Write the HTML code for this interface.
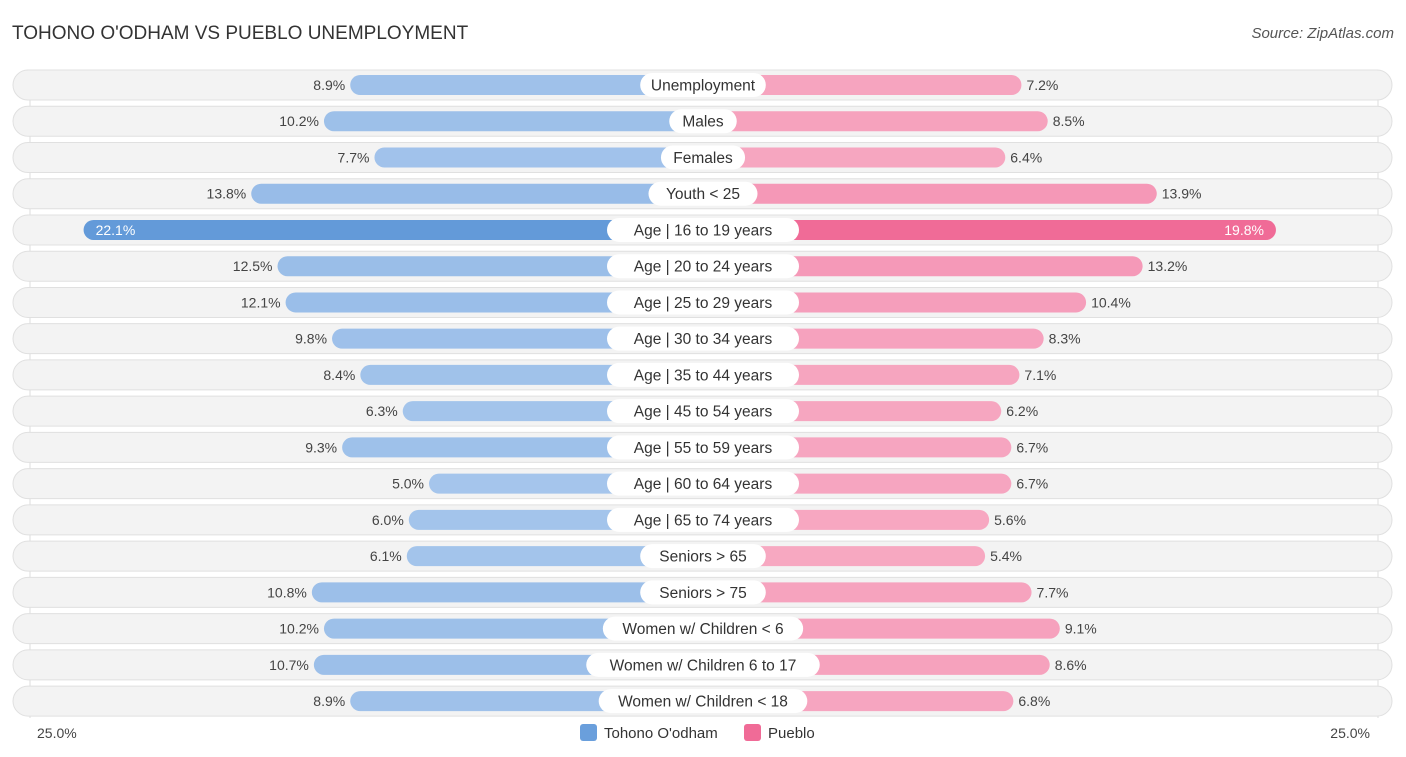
<!DOCTYPE html>
<html><head><meta charset="utf-8"><style>
body{margin:0;background:#fff;font-family:"Liberation Sans",sans-serif;}
#c{position:relative;width:1406px;height:757px;overflow:hidden;}
</style></head><body>
<div id="c">
<svg id="s" width="1406" height="757" xmlns="http://www.w3.org/2000/svg">
<text x="12" y="39" font-size="19" fill="#333">TOHONO O'ODHAM VS PUEBLO UNEMPLOYMENT</text>
<text x="1394" y="38" font-size="15" fill="#555" font-style="italic" text-anchor="end">Source: ZipAtlas.com</text>
<line x1="30" y1="70" x2="30" y2="718" stroke="#ddd"/>
<line x1="1378" y1="70" x2="1378" y2="718" stroke="#ddd"/>
<g id="rows"></g>
<text x="37" y="738" font-size="14" fill="#444">25.0%</text>
<text x="1370" y="738" font-size="14" fill="#444" text-anchor="end">25.0%</text>
<rect x="580" y="724" width="17" height="17" rx="3" fill="#6a9fdc"/>
<text x="604" y="738" font-size="15" fill="#333">Tohono O'odham</text>
<rect x="744" y="724" width="17" height="17" rx="3" fill="#f06b97"/>
<text x="768" y="738" font-size="15" fill="#333">Pueblo</text>
</svg></div>
<script>
const categories=["Unemployment","Males","Females","Youth < 25","Age | 16 to 19 years","Age | 20 to 24 years","Age | 25 to 29 years","Age | 30 to 34 years","Age | 35 to 44 years","Age | 45 to 54 years","Age | 55 to 59 years","Age | 60 to 64 years","Age | 65 to 74 years","Seniors > 65","Seniors > 75","Women w/ Children < 6","Women w/ Children 6 to 17","Women w/ Children < 18"];
const tohono=[8.9,10.2,7.7,13.8,22.1,12.5,12.1,9.8,8.4,6.3,9.3,5.0,6.0,6.1,10.8,10.2,10.7,8.9];
const pueblo=[7.2,8.5,6.4,13.9,19.8,13.2,10.4,8.3,7.1,6.2,6.7,6.7,5.6,5.4,7.7,9.1,8.6,6.8];
const NS="http://www.w3.org/2000/svg";
const g=document.getElementById('rows');
const CX=703,OFF=173,K=20.2;
function xl(v){return CX-OFF-v*K;}
function xr(v){return CX+OFF+v*K;}
function mk(t,a){const e=document.createElementNS(NS,t);for(const k in a)e.setAttribute(k,a[k]);return e;}
function lerp(a,b,t){return a.map((x,i)=>Math.round(x+(b[i]-x)*t));}
categories.forEach((c,i)=>{
  const y=85+i*36.24;
  const bg=mk('rect',{x:13,y:y-15,width:1379,height:30,rx:15,fill:'#f3f3f3',stroke:'#e0e0e0'});
  
  
  g.appendChild(bg);
  const tv=tohono[i],pv=pueblo[i];
  const tt=Math.min(1,tv/22),pt=Math.min(1,pv/20);
  const bc=tv>=20?'rgb(99,154,217)':'rgb('+lerp([172,202,238],[140,180,228],tt).join(',')+')';
  const pc=pv>=19?'rgb(240,107,151)':'rgb('+lerp([248,178,200],[243,140,175],pt).join(',')+')';
  const lb=mk('rect',{x:xl(tv),y:y-10,width:CX-xl(tv),height:20,rx:10,fill:bc});
  
  
  g.appendChild(lb);
  const rb=mk('rect',{x:CX,y:y-10,width:xr(pv)-CX,height:20,rx:10,fill:pc});
  
  
  g.appendChild(rb);
  const lt=mk('text',{y:y+5,'font-size':14});
  if(tv>=20){lt.setAttribute('x',xl(tv)+12);lt.setAttribute('fill','#fff');}
  else{lt.setAttribute('x',xl(tv)-5);lt.setAttribute('text-anchor','end');lt.setAttribute('fill','#444');}
  lt.textContent=tv.toFixed(1)+'%';
  
  
  g.appendChild(lt);
  const rt=mk('text',{y:y+5,'font-size':14});
  if(pv>=19){rt.setAttribute('x',xr(pv)-12);rt.setAttribute('text-anchor','end');rt.setAttribute('fill','#fff');}
  else{rt.setAttribute('x',xr(pv)+5);rt.setAttribute('fill','#444');}
  rt.textContent=pv.toFixed(1)+'%';
  
  
  g.appendChild(rt);
  const w=c.length*8.3+26;
  const pill=mk('rect',{x:CX-w/2,y:y-12,width:w,height:24,rx:12,fill:'#fff'});
  
  
  g.appendChild(pill);
  const ct=mk('text',{x:CX,y:y+5.5,'font-size':15.5,'text-anchor':'middle',fill:'#333'});
  ct.textContent=c;
  
  
  g.appendChild(ct);
});
</script>
</body></html>
